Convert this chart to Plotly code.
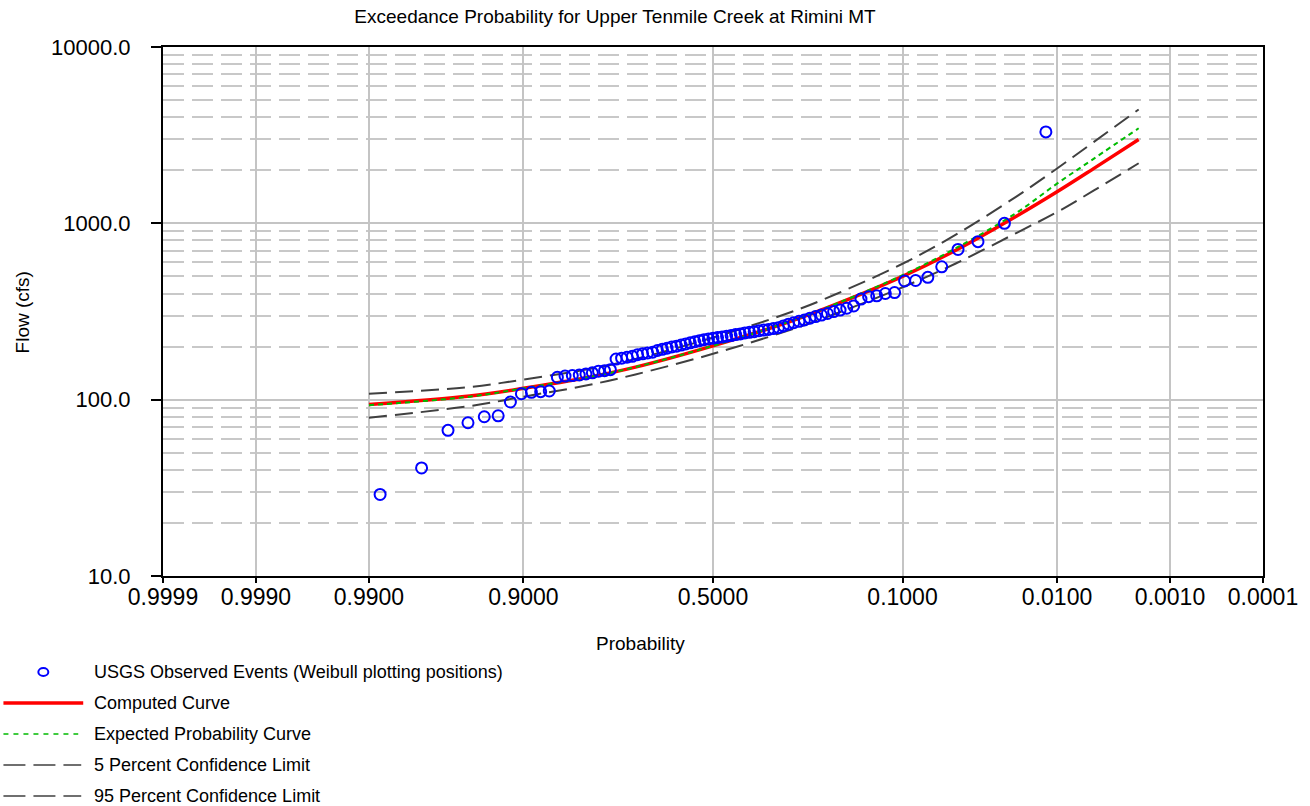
import plotly.graph_objects as go
from statistics import NormalDist

# ---------------- data ----------------
title_text = "Exceedance Probability for Upper Tenmile Creek at Rimini MT"

prob_ticks = [0.9999, 0.999, 0.99, 0.9, 0.5, 0.1, 0.01, 0.001, 0.0001]
prob_tick_labels = ["0.9999", "0.9990", "0.9900", "0.9000", "0.5000",
                    "0.1000", "0.0100", "0.0010", "0.0001"]
flow_ticks = [10, 100, 1000, 10000]
flow_tick_labels = ["10.0", "100.0", "1000.0", "10000.0"]

# observed annual peak flows (cfs), ranked from largest (rank 1) to smallest
observed_flows = [
    3300, 1000, 787, 711, 567, 494, 474, 471, 405, 400,
    388, 384, 372, 340, 330, 322, 316, 308, 302, 296,
    290, 283, 278, 273, 268, 262, 256, 253, 250, 248,
    246, 243, 241, 239, 236, 234, 231, 229, 227, 225,
    223, 221, 219, 216, 213, 210, 207, 204, 201, 199,
    196, 193, 190, 186, 184, 182, 180, 176, 174, 172,
    170, 148, 146, 145, 142, 140, 138, 137, 136, 134,
    112, 111, 110, 108, 97, 81, 80, 74, 67, 41,
    29,
]

curve_probs = [0.99, 0.95, 0.9, 0.8, 0.7, 0.5, 0.3, 0.2, 0.1,
               0.05, 0.02, 0.01, 0.005, 0.002]
computed_curve = [94, 105, 116, 134, 153, 202, 278, 350, 500,
                  706, 1100, 1510, 2050, 2990]
expected_curve = [93, 104, 116, 134, 153, 202, 279, 352, 508,
                  725, 1150, 1680, 2330, 3460]
conf_5_percent = [108, 118, 130, 149, 170, 225, 313, 400, 590,
                  865, 1423, 2046, 2897, 4423]
conf_95_percent = [79, 92, 104, 121, 139, 182, 249, 310, 434,
                   594, 884, 1158, 1537, 2192]

legend_labels = [
    "USGS Observed Events (Weibull plotting positions)",
    "Computed Curve",
    "Expected Probability Curve",
    "5 Percent Confidence Limit",
    "95 Percent Confidence Limit",
]

# ---------------- probability scale ----------------
_nd = NormalDist()


def prob_to_z(p):
    return _nd.inv_cdf(1.0 - p)


n_obs = len(observed_flows)
observed_probs = [m / (n_obs + 1) for m in range(1, n_obs + 1)]  # Weibull
obs_x = [prob_to_z(p) for p in observed_probs]
curve_x = [prob_to_z(p) for p in curve_probs]

# ---------------- layout geometry (pixels) ----------------
W, H = 1310, 806
L, R, T, B = 163, 44, 47, 230
PW = W - L - R
PH = H - T - B


def xp(px):
    return (px - L) / PW


def yp(py):
    return (H - B - py) / PH


FONT = "Liberation Sans, Arial, sans-serif"
RED = "#FF0000"
GREEN = "#00BB00"
GRAY = "#404040"
BLUE = "#0000FF"

fig = go.Figure()

fig.add_trace(go.Scatter(x=curve_x, y=conf_5_percent, mode="lines",
                         name=legend_labels[3], line_shape="spline",
                         line=dict(color=GRAY, width=2, dash="18px,8px")))
fig.add_trace(go.Scatter(x=curve_x, y=conf_95_percent, mode="lines",
                         name=legend_labels[4], line_shape="spline",
                         line=dict(color=GRAY, width=2, dash="18px,8px")))
fig.add_trace(go.Scatter(x=curve_x, y=computed_curve, mode="lines",
                         name=legend_labels[1], line_shape="spline",
                         line=dict(color=RED, width=3.5)))
fig.add_trace(go.Scatter(x=curve_x, y=expected_curve, mode="lines",
                         name=legend_labels[2], line_shape="spline",
                         line=dict(color=GREEN, width=2, dash="5px,4px")))
fig.add_trace(go.Scatter(x=obs_x, y=observed_flows, mode="markers",
                         name=legend_labels[0],
                         marker=dict(symbol="circle-open", size=11, color=BLUE,
                                     line=dict(width=2, color=BLUE))))

minor_vals = [k * 10 ** e for e in (1, 2, 3) for k in range(2, 10)]

fig.update_layout(
    width=W, height=H,
    margin=dict(l=L, r=R, t=T, b=B, pad=0),
    paper_bgcolor="white", plot_bgcolor="white",
    showlegend=False,
    font=dict(family=FONT, color="black"),
    title=dict(text=title_text, x=615 / W, xref="container", xanchor="center",
               y=1 - 16 / H, yref="container", yanchor="middle",
               font=dict(size=19, family=FONT, color="black")),
    xaxis=dict(
        type="linear",
        range=[prob_to_z(0.9999), prob_to_z(0.0001)],
        tickmode="array",
        tickvals=[prob_to_z(p) for p in prob_ticks],
        ticktext=prob_tick_labels,
        tickfont=dict(size=23, family=FONT, color="black"),
        ticks="outside", ticklen=5, tickwidth=2, tickcolor="black",
        ticklabelstandoff=-6,
        showline=True, linecolor="black", linewidth=2, mirror=True,
        showgrid=True, gridcolor="#c4c4c4", gridwidth=2,
        zeroline=False,
    ),
    yaxis=dict(
        type="log",
        range=[1, 4],
        tickmode="array",
        tickvals=flow_ticks,
        ticktext=flow_tick_labels,
        tickfont=dict(size=22, family=FONT, color="black"),
        ticks="outside", ticklen=10, tickwidth=2, tickcolor="black",
        ticklabelstandoff=16,
        showline=True, linecolor="black", linewidth=2, mirror=True,
        showgrid=True, gridcolor="#c4c4c4", gridwidth=2,
        zeroline=False,
        minor=dict(tickmode="array", tickvals=minor_vals, ticks="",
                   showgrid=True, gridcolor="#c8c8c8", gridwidth=2,
                   griddash="21px,8px"),
    ),
)

annotations = [
    dict(text="Probability", x=xp(642), y=yp(643), xref="paper", yref="paper",
         xanchor="center", yanchor="middle", showarrow=False,
         font=dict(size=19, family=FONT, color="black")),
    dict(text="Flow (cfs)", x=xp(22), y=yp(312), xref="paper", yref="paper",
         xanchor="center", yanchor="middle", showarrow=False, textangle=-90,
         font=dict(size=19, family=FONT, color="black")),
]

shapes = []
legend_rows = [672, 703, 734, 765, 796]
for label, py in zip(legend_labels, legend_rows):
    annotations.append(dict(text=label, x=xp(92), y=yp(py), xref="paper",
                            yref="paper", xanchor="left", yanchor="middle",
                            showarrow=False,
                            font=dict(size=18, family=FONT, color="black")))

# legend symbols
shapes.append(dict(type="circle", xref="paper", yref="paper",
                   xsizemode="pixel", ysizemode="pixel",
                   xanchor=xp(43), yanchor=yp(legend_rows[0]),
                   x0=-5, x1=5, y0=-4, y1=4,
                   line=dict(color=BLUE, width=2)))
shapes.append(dict(type="line", xref="paper", yref="paper",
                   x0=xp(3), x1=xp(83), y0=yp(legend_rows[1]), y1=yp(legend_rows[1]),
                   line=dict(color=RED, width=3.5)))
shapes.append(dict(type="line", xref="paper", yref="paper",
                   x0=xp(3), x1=xp(78), y0=yp(legend_rows[2]), y1=yp(legend_rows[2]),
                   line=dict(color=GREEN, width=1.5, dash="5px,5px")))
for py in legend_rows[3:]:
    shapes.append(dict(type="line", xref="paper", yref="paper",
                       x0=xp(3), x1=xp(81), y0=yp(py), y1=yp(py),
                       line=dict(color=GRAY, width=1.5, dash="22px,8px")))

fig.update_layout(annotations=annotations, shapes=shapes)

fig.write_html("out.html")
